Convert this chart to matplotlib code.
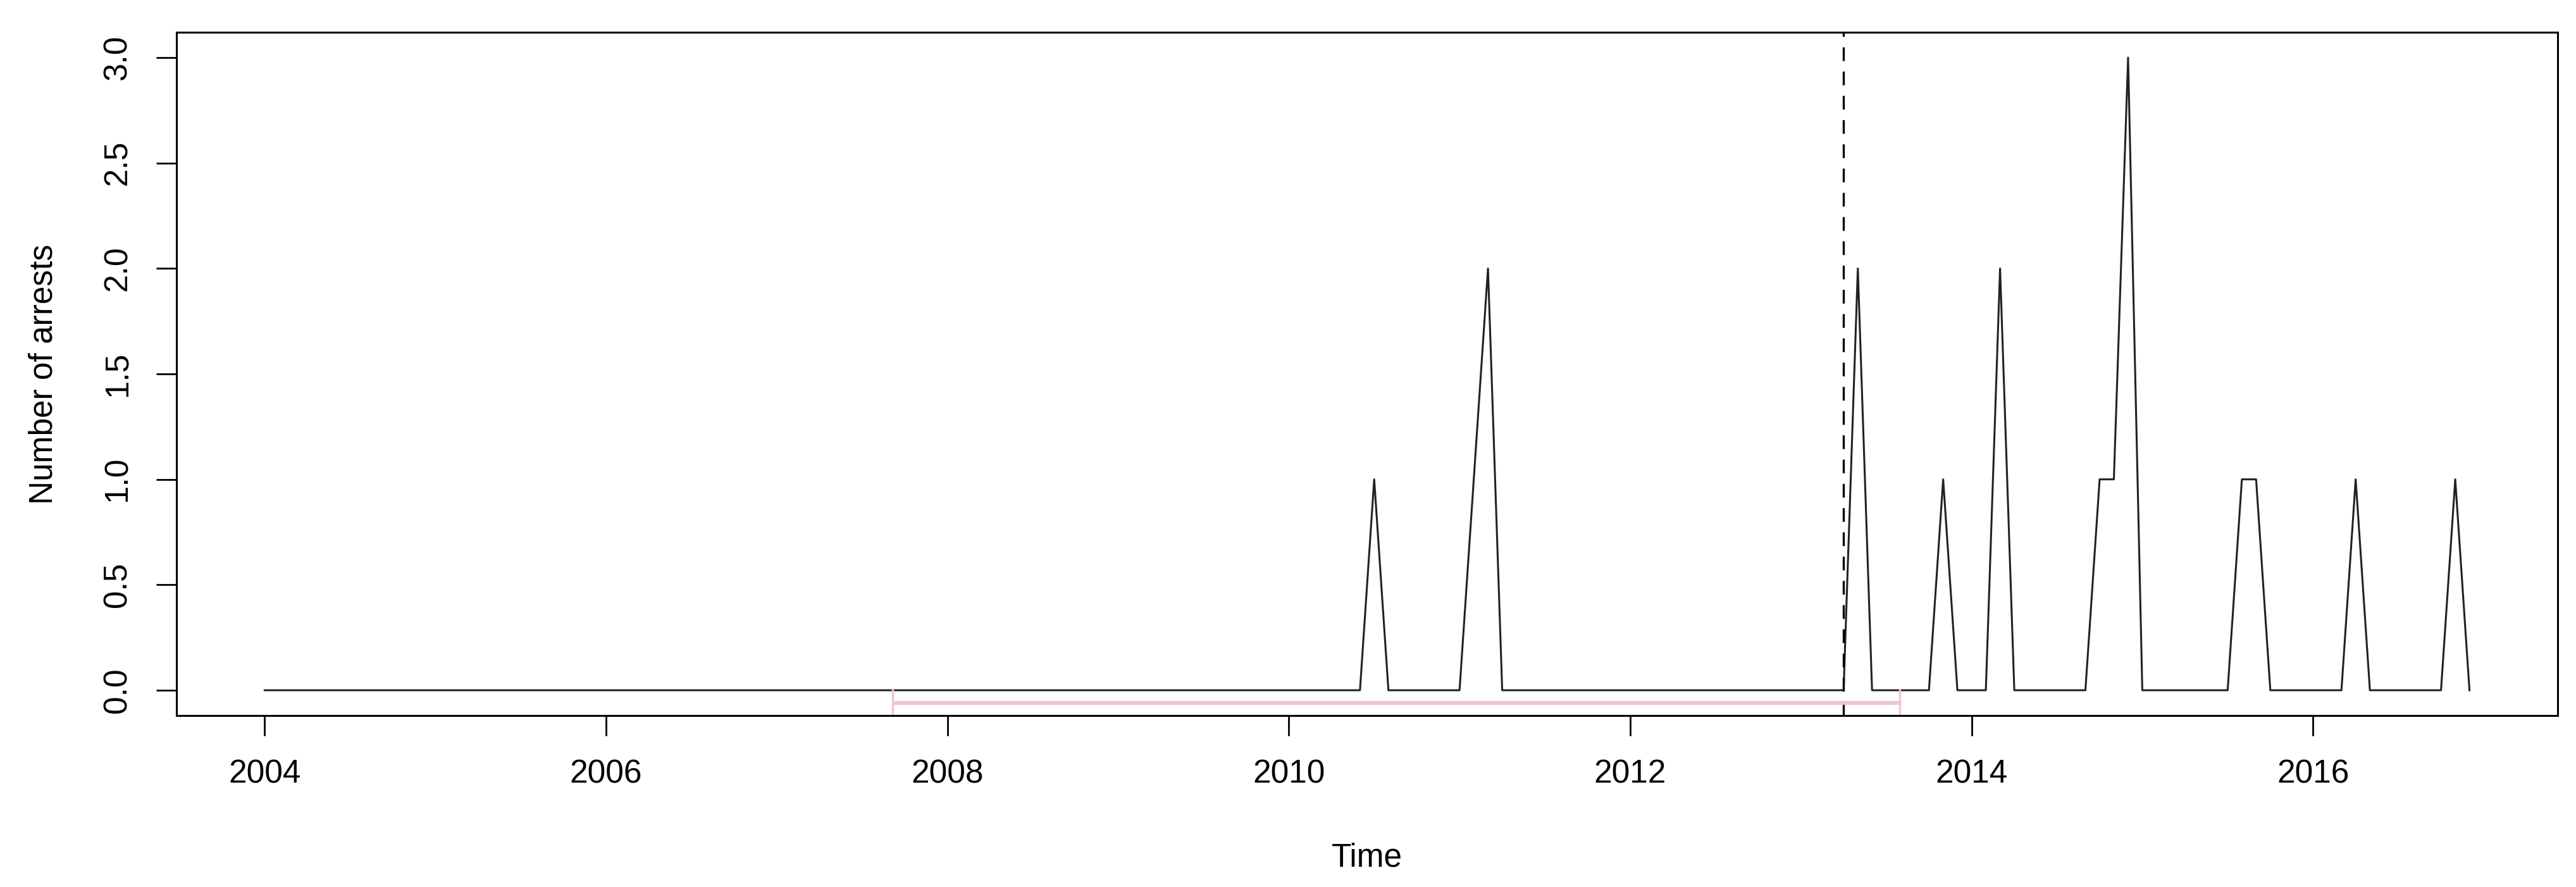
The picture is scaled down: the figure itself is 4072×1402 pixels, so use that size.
import matplotlib

matplotlib.use("Agg")
import matplotlib.pyplot as plt
import numpy as np

plt.rcParams["font.family"] = ["Liberation Sans", "DejaVu Sans"]

START_YEAR = 2004
# monthly arrest counts, Jan 2004 - Dec 2016, one row per year
arrests = [
    0, 0, 0, 0, 0, 0, 0, 0, 0, 0, 0, 0,  # 2004
    0, 0, 0, 0, 0, 0, 0, 0, 0, 0, 0, 0,  # 2005
    0, 0, 0, 0, 0, 0, 0, 0, 0, 0, 0, 0,  # 2006
    0, 0, 0, 0, 0, 0, 0, 0, 0, 0, 0, 0,  # 2007
    0, 0, 0, 0, 0, 0, 0, 0, 0, 0, 0, 0,  # 2008
    0, 0, 0, 0, 0, 0, 0, 0, 0, 0, 0, 0,  # 2009
    0, 0, 0, 0, 0, 0, 1, 0, 0, 0, 0, 0,  # 2010
    0, 1, 2, 0, 0, 0, 0, 0, 0, 0, 0, 0,  # 2011
    0, 0, 0, 0, 0, 0, 0, 0, 0, 0, 0, 0,  # 2012
    0, 0, 0, 0, 2, 0, 0, 0, 0, 0, 1, 0,  # 2013
    0, 0, 2, 0, 0, 0, 0, 0, 0, 1, 1, 3,  # 2014
    0, 0, 0, 0, 0, 0, 0, 1, 1, 0, 0, 0,  # 2015
    0, 0, 0, 1, 0, 0, 0, 0, 0, 0, 1, 0,  # 2016
]

BREAK_DATE = 2013.25
CI_LOW = 2007.68
CI_HIGH = 2013.58
CI_LEVEL = -0.06

X_TICKS = [2004, 2006, 2008, 2010, 2012, 2014, 2016]
Y_TICKS = [0.0, 0.5, 1.0, 1.5, 2.0, 2.5, 3.0]


def main() -> None:
    values = np.asarray(arrests, dtype=float)
    times = START_YEAR + np.arange(len(values)) / 12

    fig = plt.figure(figsize=(40.72, 14.02), dpi=100)
    ax = fig.add_axes([0.06852, 0.1933, 0.92436, 0.77033])

    ax.plot(times, values, color="#222222", linewidth=2.2)
    ax.axvline(BREAK_DATE, color="black", linewidth=2.4, linestyle=(0, (6.5, 5)))

    ci_color = "#F2C4CE"
    ax.hlines(CI_LEVEL, CI_LOW, CI_HIGH, color=ci_color, linewidth=4.5)
    ax.vlines([CI_LOW, CI_HIGH], CI_LEVEL - 0.07, CI_LEVEL + 0.07, color=ci_color, linewidth=2.5)

    span = times[-1] - times[0]
    ax.set_xlim(times[0] - 0.04 * span, times[-1] + 0.04 * span)
    ax.set_ylim(-0.12, 3.12)

    ax.set_xticks(X_TICKS, [str(t) for t in X_TICKS])
    ax.set_yticks(Y_TICKS, [f"{t:.1f}" for t in Y_TICKS])
    for label in ax.get_yticklabels():
        label.set_rotation(90)
        label.set_va("center")

    ax.tick_params(axis="both", direction="out", length=23, width=2.0, labelsize=37, pad=26)
    for spine in ax.spines.values():
        spine.set_linewidth(2.2)
        spine.set_color("black")

    ax.set_xlabel("Time", fontsize=37, labelpad=60)
    ax.set_ylabel("Number of arrests", fontsize=37, labelpad=49)

    fig.savefig("out.png", dpi=100)
    plt.close(fig)


if __name__ == "__main__":
    main()
